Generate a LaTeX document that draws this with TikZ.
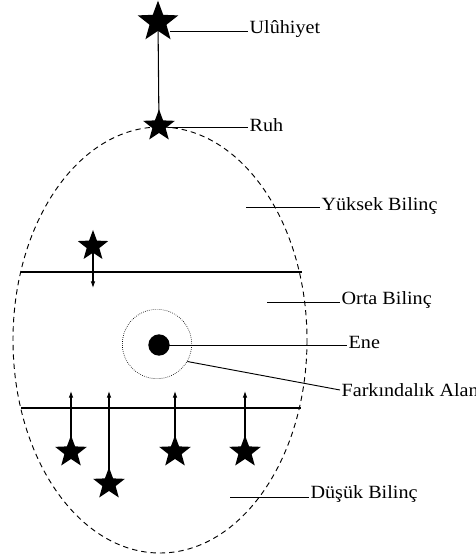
\documentclass[tikz,border=0pt]{standalone}
\usepackage{fontspec}
\setmainfont[FakeStretch=1.08]{Liberation Serif}
\usetikzlibrary{shapes.geometric,arrows.meta}
\begin{document}
\begin{tikzpicture}[x=0.75pt,y=-0.75pt,
  bigstar/.style={star,star points=5,star point ratio=2.4,fill=black,draw=none,inner sep=0pt},
  lbl/.style={anchor=west,inner sep=1pt,font=\fontsize{14}{16}\selectfont},
  leader/.style={line width=0.7pt},
  level/.style={line width=2pt},
  uparr/.style={line width=0.8pt,-{Latex[length=5pt,width=3.5pt]}}]
\useasboundingbox (0,0) rectangle (475,559);
% ellipse
\draw[dashed,line width=0.7pt,dash pattern=on 4pt off 3pt] (160,340) ellipse [x radius=147,y radius=213];
% stars top
\node[bigstar,minimum size=32] (ulu) at (158,22) {};
\node[bigstar,minimum size=25] (ruh) at (159,126) {};
\draw[line width=0.8pt] (ulu.center) -- (ruh.center);
\node[lbl] (tulu) at (248,29) {Ulûhiyet};
\node[lbl] (truh) at (248,125) {Ruh};
\coordinate (culu) at (170,31);
\coordinate (cruh) at (168,127);
\draw[leader] (culu) -- (culu -| tulu.west);
\draw[leader] (cruh) -- (cruh -| truh.west);
% Yuksek
\node[lbl] (tyuk) at (320,206) {Yüksek Bilinç};
\coordinate (cyuk) at (246,207);
\draw[leader] (cyuk) -- (tyuk.west |- cyuk);
% level lines
\coordinate (l1a) at (21,272); \coordinate (l1b) at (302,272);
\draw[level] (l1a) -- (l1b);
\coordinate (l2a) at (21,408); \coordinate (l2b) at (301,408);
\draw[level] (l2a) -- (l2b);
% upper star with down arrow
\node[bigstar,minimum size=24] (s0) at (93,246) {};
\coordinate (a0) at (93,288);
\draw[uparr] (s0.center) -- (a0);
% Orta
\node[lbl] (torta) at (340,300) {Orta Bilinç};
\coordinate (corta) at (267,302);
\draw[leader] (corta) -- (torta.west |- corta);
% Ene
\node[circle,draw,densely dotted,line width=0.5pt,minimum size=52,inner sep=0pt] (farea) at (157,344) {};
\node[circle,fill=black,minimum size=16,inner sep=0pt] (ene) at (159,345) {};
\node[lbl] (tene) at (347,342) {Ene};
\draw[leader] (ene.center) -- (tene.west |- ene.center);
\node[lbl] (tfark) at (340,390) {Farkındalık Alanı};
\draw[leader] (farea.-30) -- (tfark.west);
% lower stars with up arrows
\foreach \n/\x/\y in {s1/71/452, s2/109/484, s3/175/452, s4/245/452}{
  \node[bigstar,minimum size=25] (\n) at (\x,\y) {};
  \coordinate (\n t) at (\x,391);
  \draw[uparr] (\n.center) -- (\n t);
}
% Dusuk
\node[lbl] (tdus) at (309,494) {Düşük Bilinç};
\coordinate (cdus) at (230,497);
\draw[leader] (cdus) -- (tdus.west |- cdus);
\end{tikzpicture}
\end{document}
